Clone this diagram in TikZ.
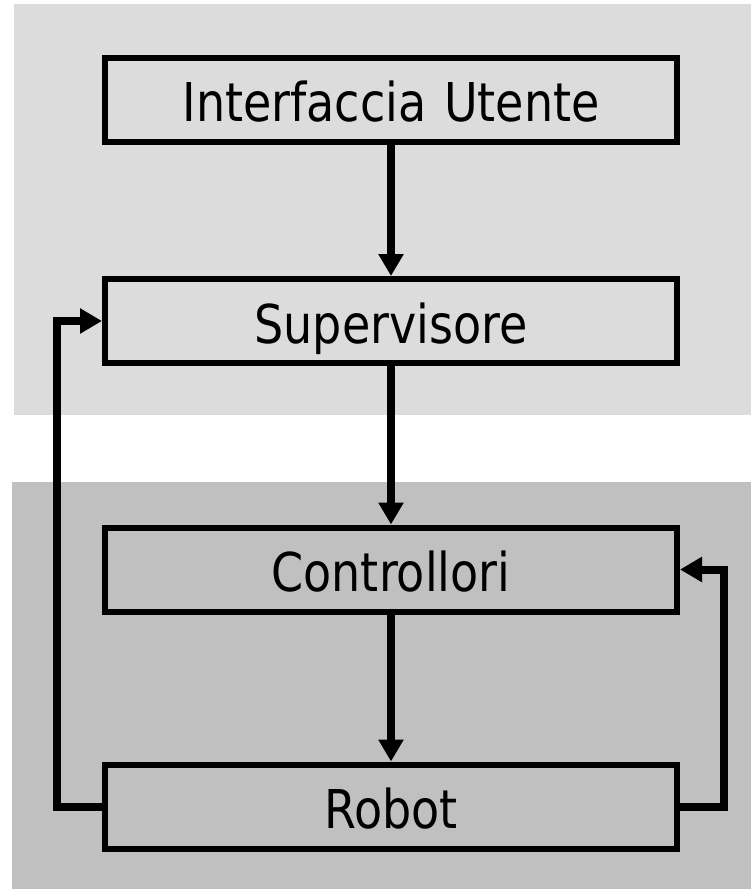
\documentclass[tikz,border=0pt]{standalone}
\usepackage{fontspec}
\setmainfont{DejaVu Sans}[FakeStretch=0.86,WordSpace=1.2]
\usetikzlibrary{arrows.meta}
\definecolor{bgtop}{RGB}{220,220,220}
\definecolor{bgbot}{RGB}{192,192,192}
\begin{document}
\begin{tikzpicture}[x=1pt,y=-1pt,
  box/.style={draw, line width=6pt, minimum width=572pt, minimum height=84pt,
    inner sep=0pt, text height=44pt, text depth=0pt,
    font=\fontsize{53.5}{60}\selectfont},
  conn/.style={line width=8pt, line join=miter, -{Triangle[length=22pt,width=24pt]}}]
\useasboundingbox (0,0) rectangle (751,889);
\fill[bgtop] (14,4) rectangle (751,415);
\fill[bgbot] (12,482) rectangle (751,889);
\node[box] (ui) at (391,99.5) {Interfaccia Utente};
\node[box] (sup) at (391,321) {Supervisore};
\node[box] (ctl) at (391,569.5) {Controllori};
\node[box] (rob) at (391,806.5) {Robot};
\draw[conn] (ui.south) -- (sup.north);
\draw[conn] (sup.south) -- (ctl.north);
\draw[conn] (ctl.south) -- (rob.north);
\draw[conn] (rob.west) -- ++(-45.5,0) |- (sup.west);
\draw[conn] (rob.east) -- ++(44,0) |- (ctl.east);
\end{tikzpicture}
\end{document}
